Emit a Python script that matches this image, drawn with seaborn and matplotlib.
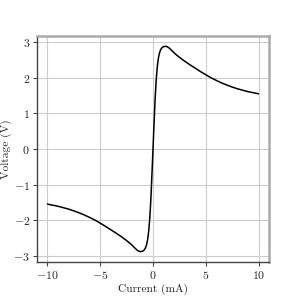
import numpy as np
import pandas as pd
import seaborn as sns
import matplotlib
matplotlib.use("Agg")
import matplotlib.pyplot as plt

current = [-10.0, -9.5, -9.0, -8.5, -8.0, -7.5, -7.0, -6.5, -6.0, -5.5, -5.0, -4.5, -4.0,
           -3.5, -3.0, -2.5, -2.25, -2.0, -1.75, -1.5, -1.35, -1.2, -1.0, -0.9, -0.8, -0.7,
           -0.6, -0.5, -0.4, -0.3, -0.2, -0.1, 0.0, 0.1, 0.2, 0.3, 0.4, 0.5, 0.6, 0.7, 0.8,
           0.9, 1.0, 1.2, 1.35, 1.5, 1.75, 2.0, 2.25, 2.5, 3.0, 3.5, 4.0, 4.5, 5.0, 5.5,
           6.0, 6.5, 7.0, 7.5, 8.0, 8.5, 9.0, 9.5, 10.0]
voltage = [-1.55, -1.58, -1.61, -1.65, -1.69, -1.74, -1.795, -1.855, -1.925, -2.0, -2.085, -2.175, -2.27,
           -2.365, -2.465, -2.575, -2.635, -2.70, -2.775, -2.845, -2.87, -2.885, -2.875, -2.857, -2.825, -2.77,
           -2.68, -2.53, -2.29, -1.92, -1.40, -0.72, 0.0, 0.72, 1.40, 1.92, 2.29, 2.53, 2.68, 2.77, 2.825,
           2.857, 2.875, 2.885, 2.87, 2.845, 2.775, 2.70, 2.635, 2.575, 2.465, 2.365, 2.27, 2.175, 2.085, 2.0,
           1.925, 1.855, 1.795, 1.74, 1.69, 1.65, 1.61, 1.58, 1.55]
x_ticks = [-10, -5, 0, 5, 10]
y_ticks = [-3, -2, -1, 0, 1, 2, 3]

df = pd.DataFrame({"Current (mA)": current, "Voltage (V)": voltage})

sns.set_theme(style="white")
plt.rcParams.update({
    "font.family": "serif",
    "font.serif": ["cmr10"],
    "mathtext.fontset": "cm",
    "axes.formatter.use_mathtext": True,
    "axes.unicode_minus": True,
})

fig, ax = plt.subplots(figsize=(3, 3), dpi=100)
fig.subplots_adjust(left=0.123, right=0.897, top=0.88, bottom=0.127)
sns.lineplot(data=df, x="Current (mA)", y="Voltage (V)", color="black", linewidth=1.1, ax=ax)
ax.set_xticks(x_ticks)
ax.set_yticks(y_ticks)
ax.grid(True, color="#cccccc", linewidth=0.8)
ax.set_axisbelow(True)
for s in ["left", "bottom"]:
    ax.spines[s].set_color("#444444")
    ax.spines[s].set_linewidth(1.0)
for s in ["top", "right"]:
    ax.spines[s].set_color("#aaaaaa")
    ax.spines[s].set_linewidth(1.8)
ax.tick_params(axis="both", which="major", length=3, width=0.8, color="#444444",
               labelsize=8.5, pad=2, direction="out", bottom=True, left=True)
ax.set_xlabel("Current (mA)", fontsize=8.2, labelpad=2)
ax.set_ylabel("Voltage (V)", fontsize=8.2, labelpad=1)
fig.savefig("out.png", dpi=100)
